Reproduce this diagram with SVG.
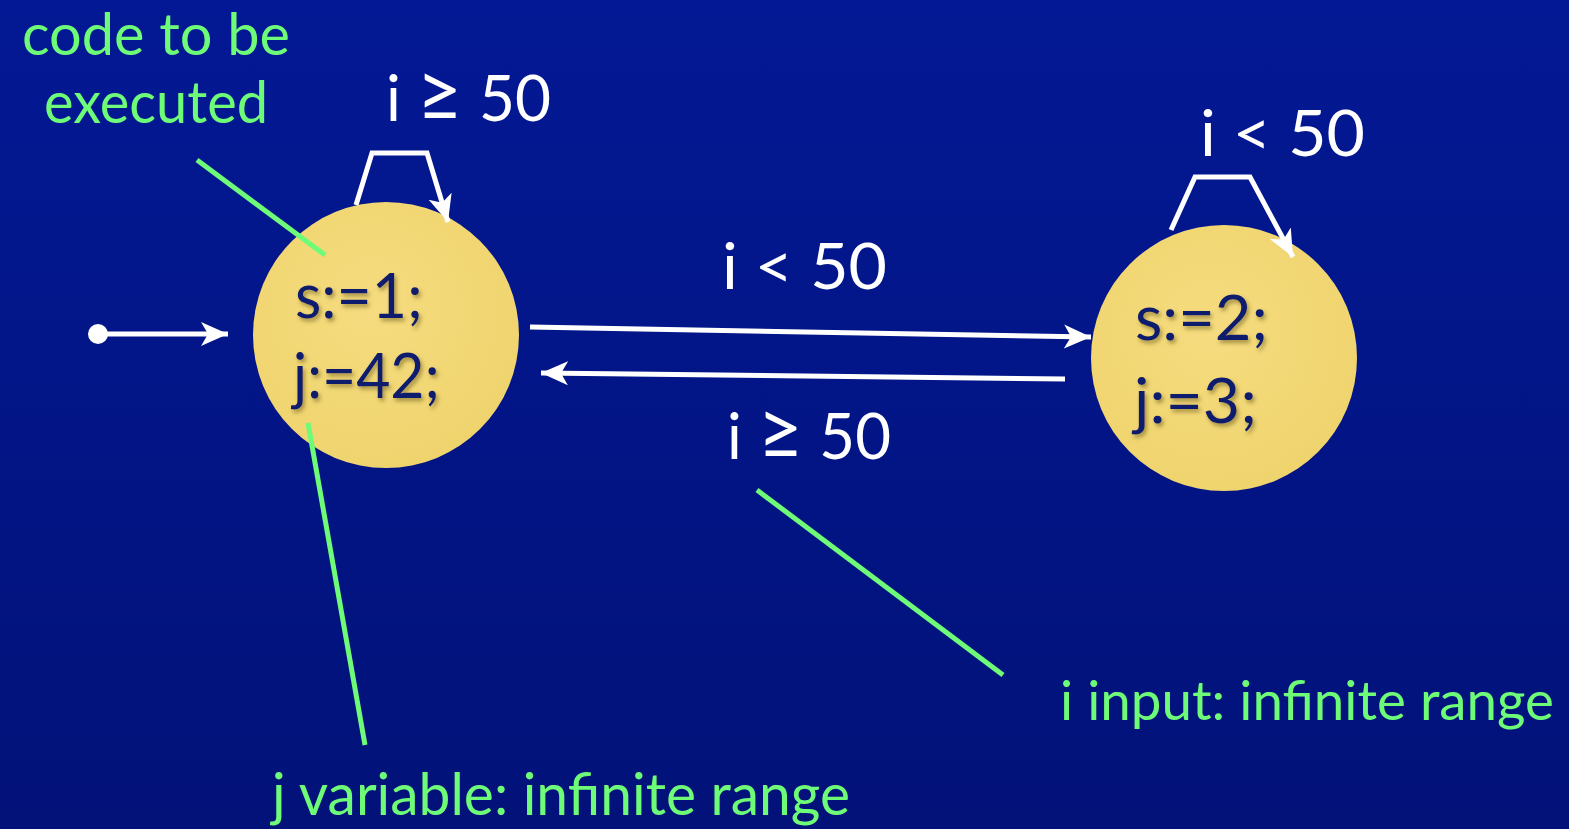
<svg xmlns="http://www.w3.org/2000/svg" width="1569" height="829" viewBox="0 0 1569 829">
  <style>
    .lbl { font-family: "Lato", "Liberation Sans", sans-serif; fill: #ffffff; font-size: 64px; }
    .ge { font-size: 82px; }
    .note { font-family: "Lato", "Liberation Sans", sans-serif; fill: #6dfb78; font-size: 58px; }
    .small { font-size: 55px; }
    .code { font-family: "Lato", "Liberation Sans", sans-serif; fill: #0c1a6c; font-size: 62px; filter: url(#shadow); }
    .edge { stroke: #ffffff; stroke-width: 5; fill: none; marker-end: url(#arrow); }
    .lead { stroke: #6dfb78; stroke-width: 5; fill: none; }
    .node { fill: url(#gold); }
  </style>
  <defs>
    <linearGradient id="bg" x1="0" y1="0" x2="0" y2="1">
      <stop offset="0" stop-color="#031894"/>
      <stop offset="1" stop-color="#021279"/>
    </linearGradient>
    <radialGradient id="gold" cx="0.45" cy="0.4" r="0.6">
      <stop offset="0" stop-color="#f6dc7f"/>
      <stop offset="1" stop-color="#efd46e"/>
    </radialGradient>
    <filter id="shadow" x="-10%" y="-20%" width="130%" height="150%">
      <feDropShadow dx="2" dy="3" stdDeviation="2" flood-color="#6b5a20" flood-opacity="0.6"/>
    </filter>
    <marker id="arrow" markerUnits="userSpaceOnUse" markerWidth="30" markerHeight="28" refX="27" refY="14" orient="auto">
      <path d="M0,2 L27,14 L0,26 L7,14 z" fill="#ffffff"/>
    </marker>
  </defs>

  <rect width="1569" height="829" fill="url(#bg)"/>

  <g id="node-s1">
    <circle class="node" cx="386" cy="335" r="133"/>
    <text class="code" x="295" y="318" textLength="128" lengthAdjust="spacingAndGlyphs">s:=1;</text>
    <text class="code" x="293" y="398" textLength="147" lengthAdjust="spacingAndGlyphs">j:=42;</text>
  </g>

  <g id="node-s2">
    <circle class="node" cx="1224" cy="358" r="133"/>
    <text class="code" x="1135" y="340" textLength="133" lengthAdjust="spacingAndGlyphs">s:=2;</text>
    <text class="code" x="1134" y="423" textLength="123" lengthAdjust="spacingAndGlyphs">j:=3;</text>
  </g>

  <g id="connectors">
    <circle cx="98" cy="334" r="10" fill="#ffffff"/>
    <line class="edge" x1="98" y1="334" x2="228" y2="334"/>
    <polyline class="edge" points="356,205 372,153 427,153 448,222"/>
    <polyline class="edge" points="1171,230 1195,177 1250,177 1293,257"/>
    <line class="edge" x1="530" y1="327" x2="1091" y2="337"/>
    <line class="edge" x1="1065" y1="379" x2="541" y2="373"/>
    <text class="lbl" x="386" y="121" textLength="165" lengthAdjust="spacingAndGlyphs">i <tspan class="ge">≥</tspan> 50</text>
    <text class="lbl" x="1200" y="156" textLength="165" lengthAdjust="spacingAndGlyphs">i &lt; 50</text>
    <text class="lbl" x="722" y="289" textLength="165" lengthAdjust="spacingAndGlyphs">i &lt; 50</text>
    <text class="lbl" x="727" y="459" textLength="164" lengthAdjust="spacingAndGlyphs">i <tspan class="ge">≥</tspan> 50</text>
  </g>

  <g id="annotations">
    <line class="lead" x1="197" y1="160" x2="325" y2="255"/>
    <line class="lead" x1="308" y1="423" x2="365" y2="745"/>
    <line class="lead" x1="757" y1="490" x2="1003" y2="675"/>
    <text class="note" x="22" y="55" textLength="268" lengthAdjust="spacingAndGlyphs">code to be</text>
    <text class="note" x="44" y="123" textLength="224" lengthAdjust="spacingAndGlyphs">executed</text>
    <text class="note small" x="1060" y="720" textLength="494" lengthAdjust="spacingAndGlyphs">i input: infinite range</text>
    <text class="note" x="272" y="815" textLength="578" lengthAdjust="spacingAndGlyphs">j variable: infinite range</text>
  </g>
</svg>
